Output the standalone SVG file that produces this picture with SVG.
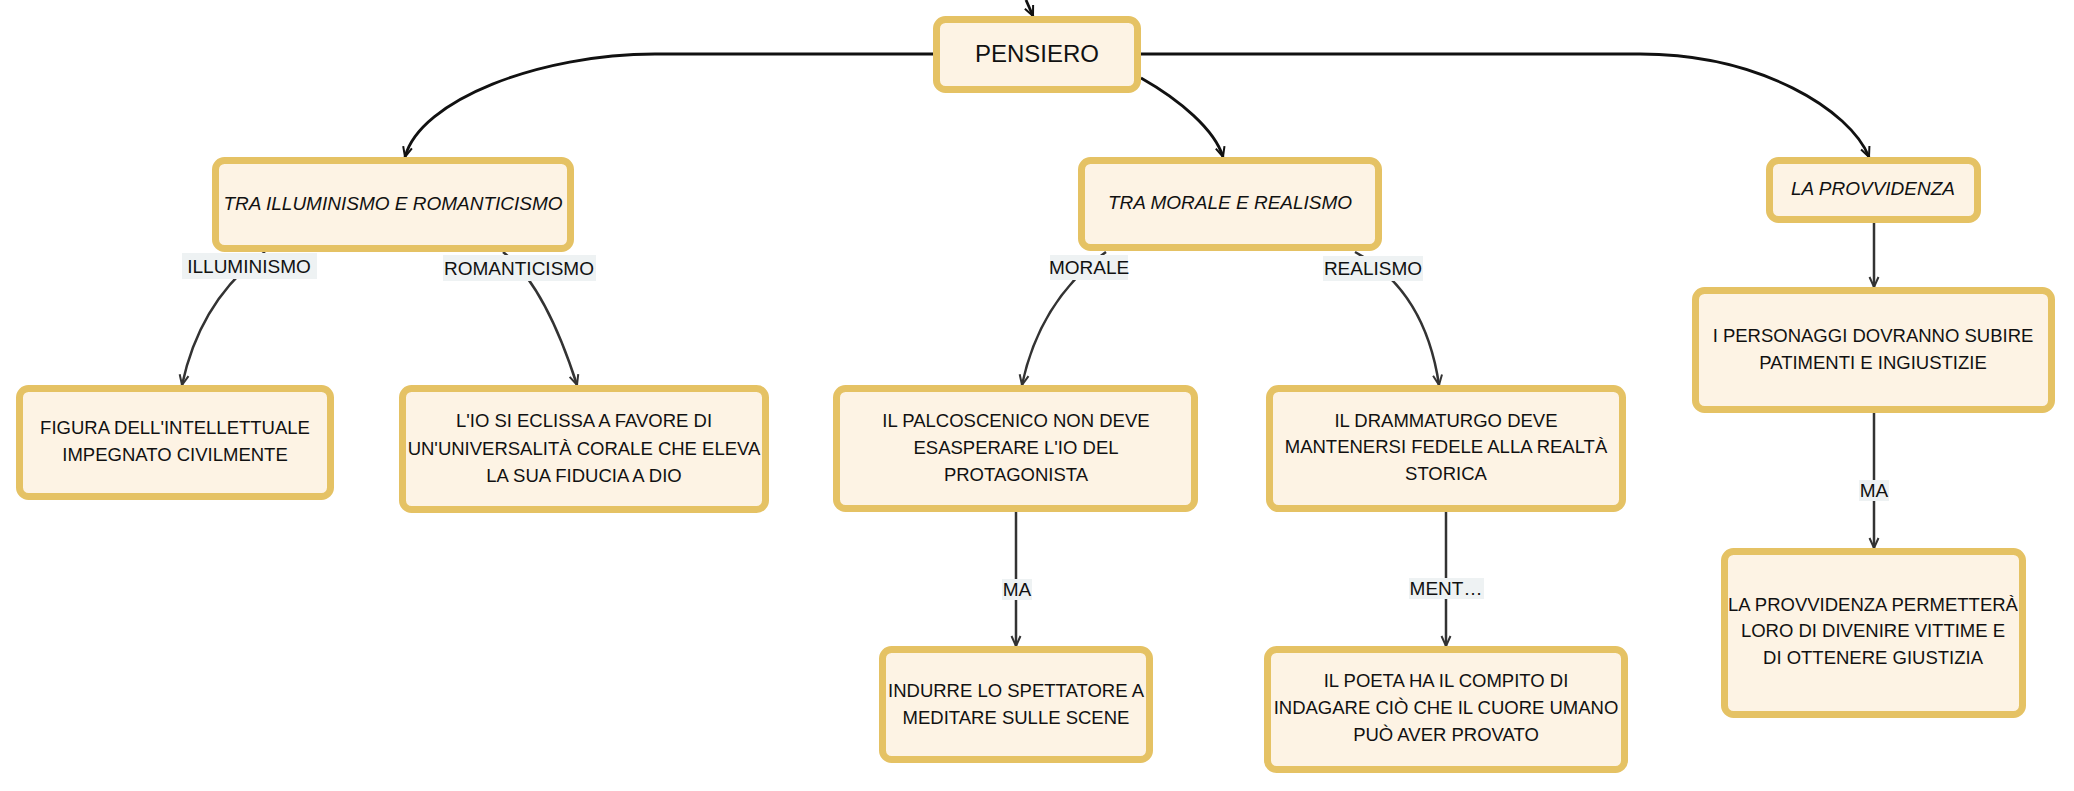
<svg xmlns="http://www.w3.org/2000/svg" width="2074" height="791" viewBox="0 0 2074 791">
<defs>
<style>
.node rect{fill:#fdf3e4;stroke:#e5c264;stroke-width:7}
.node text{font-family:"Liberation Sans","DejaVu Sans",sans-serif;font-size:18.5px;fill:#111;text-anchor:middle}
.node text.it{font-style:italic;font-size:19px}
.node text.big{font-size:24px}
.conn path{fill:none;stroke:#333;stroke-width:2.5}
.conn path.top{stroke:#111;stroke-width:2.8}
.lbl rect{fill:#eef2f3}
.lbl text{font-family:"Liberation Sans","DejaVu Sans",sans-serif;font-size:19px;fill:#111;text-anchor:middle}
</style>
<marker id="ah" viewBox="0 0 12 12" refX="11" refY="6" markerWidth="12" markerHeight="12" markerUnits="userSpaceOnUse" orient="auto">
<path d="M1,1.5 L11,6 L1,10.5" fill="none" stroke="#333" stroke-width="2"/>
</marker>
<marker id="ahk" viewBox="0 0 12 12" refX="11" refY="6" markerWidth="12" markerHeight="12" markerUnits="userSpaceOnUse" orient="auto">
<path d="M1,1.5 L11,6 L1,10.5" fill="none" stroke="#111" stroke-width="2"/>
</marker>
</defs>
<rect width="2074" height="791" fill="#fff"/>
<g id="connectors" class="conn">
<path class="top" d="M1026 0 L1033 16" marker-end="url(#ahk)"/>
<path class="top" d="M933 54 H655 C540 54 420 100 405 157" marker-end="url(#ahk)"/>
<path class="top" d="M1141 78 C1180 100 1215 130 1223 157" marker-end="url(#ahk)"/>
<path class="top" d="M1141 54 H1640 C1760 54 1850 110 1869 157" marker-end="url(#ahk)"/>
<path d="M265 252 Q200 300 182 385" marker-end="url(#ah)"/>
<path d="M503 252 Q545 285 577 385" marker-end="url(#ah)"/>
<path d="M1106 252 Q1040 300 1022 385" marker-end="url(#ah)"/>
<path d="M1355 252 Q1425 290 1439 385" marker-end="url(#ah)"/>
<path d="M1016 512 V646" marker-end="url(#ah)"/>
<path d="M1446 512 V646" marker-end="url(#ah)"/>
<path d="M1874 223 V287" marker-end="url(#ah)"/>
<path d="M1874 413 V548" marker-end="url(#ah)"/>
</g>
<g id="labels" class="lbl">
<g id="lbl-illuminismo"><rect x="182" y="253" width="135" height="26"/><text x="249" y="273">ILLUMINISMO</text></g>
<g id="lbl-romanticismo"><rect x="443" y="255" width="153" height="26"/><text x="519" y="275">ROMANTICISMO</text></g>
<g id="lbl-morale"><rect x="1050" y="255" width="78" height="25"/><text x="1089" y="274">MORALE</text></g>
<g id="lbl-realismo"><rect x="1323" y="256" width="100" height="25"/><text x="1373" y="275">REALISMO</text></g>
<g id="lbl-ma1"><rect x="1002" y="579" width="30" height="21"/><text x="1017" y="596">MA</text></g>
<g id="lbl-ment"><rect x="1409" y="578" width="75" height="21"/><text x="1446" y="595">MENT…</text></g>
<g id="lbl-ma2"><rect x="1859" y="480" width="30" height="21"/><text x="1874" y="497">MA</text></g>
</g>
<g id="n-pensiero" class="node"><rect x="936.5" y="19.5" width="201" height="70" rx="9"/><text class="big" x="1037" y="62">PENSIERO</text></g>
<g id="n-tra-ill" class="node"><rect x="215.5" y="160.5" width="355" height="88" rx="9"/><text class="it" x="393" y="210">TRA ILLUMINISMO E ROMANTICISMO</text></g>
<g id="n-tra-mor" class="node"><rect x="1081.5" y="160.5" width="297" height="87" rx="9"/><text class="it" x="1230" y="209">TRA MORALE E REALISMO</text></g>
<g id="n-provv" class="node"><rect x="1769.5" y="160.5" width="208" height="59" rx="9"/><text class="it" x="1873" y="195">LA PROVVIDENZA</text></g>
<g id="n-personaggi" class="node"><rect x="1695.5" y="290.5" width="356" height="119" rx="9"/><text x="1873" y="342">I PERSONAGGI DOVRANNO SUBIRE</text><text x="1873" y="369">PATIMENTI E INGIUSTIZIE</text></g>
<g id="n-figura" class="node"><rect x="19.5" y="388.5" width="311" height="108" rx="9"/><text x="175" y="434">FIGURA DELL'INTELLETTUALE</text><text x="175" y="461">IMPEGNATO CIVILMENTE</text></g>
<g id="n-io" class="node"><rect x="402.5" y="388.5" width="363" height="121" rx="9"/><text x="584" y="427">L'IO SI ECLISSA A FAVORE DI</text><text x="584" y="455">UN'UNIVERSALITÀ CORALE CHE ELEVA</text><text x="584" y="482">LA SUA FIDUCIA A DIO</text></g>
<g id="n-palco" class="node"><rect x="836.5" y="388.5" width="358" height="120" rx="9"/><text x="1016" y="427">IL PALCOSCENICO NON DEVE</text><text x="1016" y="454">ESASPERARE L'IO DEL</text><text x="1016" y="481">PROTAGONISTA</text></g>
<g id="n-dramm" class="node"><rect x="1269.5" y="388.5" width="353" height="120" rx="9"/><text x="1446" y="427">IL DRAMMATURGO DEVE</text><text x="1446" y="453">MANTENERSI FEDELE ALLA REALTÀ</text><text x="1446" y="480">STORICA</text></g>
<g id="n-indurre" class="node"><rect x="882.5" y="649.5" width="267" height="110" rx="9"/><text x="1016" y="697">INDURRE LO SPETTATORE A</text><text x="1016" y="724">MEDITARE SULLE SCENE</text></g>
<g id="n-poeta" class="node"><rect x="1267.5" y="649.5" width="357" height="120" rx="9"/><text x="1446" y="687">IL POETA HA IL COMPITO DI</text><text x="1446" y="714">INDAGARE CIÒ CHE IL CUORE UMANO</text><text x="1446" y="741">PUÒ AVER PROVATO</text></g>
<g id="n-permettera" class="node"><rect x="1724.5" y="551.5" width="298" height="163" rx="9"/><text x="1873" y="611">LA PROVVIDENZA PERMETTERÀ</text><text x="1873" y="637">LORO DI DIVENIRE VITTIME E</text><text x="1873" y="664">DI OTTENERE GIUSTIZIA</text></g>
</svg>
